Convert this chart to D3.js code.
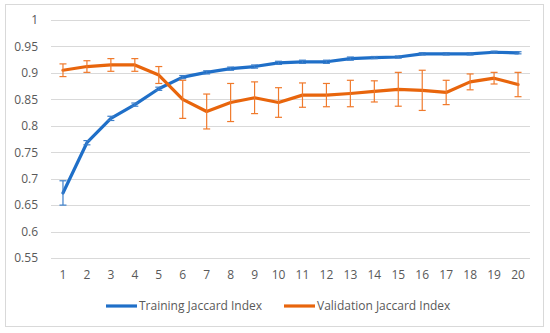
<!DOCTYPE html>
<html lang="en">
<head>
<meta charset="utf-8">
<title>Jaccard Index</title>
<script src="https://cdn.jsdelivr.net/npm/d3@7"></script>
<style>
  html, body { margin: 0; padding: 0; background: #fff; }
  svg { font-family: "Open Sans", sans-serif; display: block; }
</style>
</head>
<body>
<script>
// data
const epochs = d3.range(1, 21);
const trainMean = [0.673, 0.768, 0.814, 0.840, 0.870, 0.892, 0.901, 0.908, 0.912, 0.919,
                   0.921, 0.921, 0.927, 0.929, 0.930, 0.936, 0.936, 0.936, 0.939, 0.938];
const trainErr  = [0.023, 0.004, 0.004, 0.003, 0.003, 0.003, 0.003, 0.003, 0.003, 0.003,
                   0.003, 0.003, 0.003, 0.002, 0.002, 0.002, 0.002, 0.002, 0.002, 0.002];
const valMean   = [0.905, 0.912, 0.915, 0.915, 0.896, 0.850, 0.827, 0.844, 0.853, 0.844,
                   0.858, 0.858, 0.861, 0.865, 0.869, 0.867, 0.863, 0.883, 0.890, 0.878];
const valErr    = [0.012, 0.011, 0.012, 0.012, 0.016, 0.036, 0.033, 0.036, 0.030, 0.028,
                   0.023, 0.022, 0.025, 0.020, 0.032, 0.038, 0.023, 0.015, 0.011, 0.023];
const yTicks = [0.55, 0.6, 0.65, 0.7, 0.75, 0.8, 0.85, 0.9, 0.95, 1];

const series = [
  { name: "Training Jaccard Index", mean: trainMean, err: trainErr, color: "#1f6fc8", errColor: "#3d7fca" },
  { name: "Validation Jaccard Index", mean: valMean, err: valErr, color: "#e8650c", errColor: "#f07a2c" }
];

const w = 550, h = 333;
const svg = d3.select("body").append("svg").attr("width", w).attr("height", h);

// chart border
svg.append("rect").attr("x", 5.5).attr("y", 4.5).attr("width", 538).attr("height", 322)
  .attr("fill", "#fff").attr("stroke", "#d9d9d9");

const x = d3.scaleBand().domain(epochs).range([51, 530]);
const y = d3.scaleLinear().domain([0.55, 1]).range([258, 20]);

// gridlines
svg.append("g").selectAll("line").data(yTicks).join("line")
  .attr("x1", 51).attr("x2", 530)
  .attr("y1", d => Math.round(y(d)) + 0.5).attr("y2", d => Math.round(y(d)) + 0.5)
  .attr("stroke", "#d9d9d9");

// y axis labels
const yAxis = d3.axisLeft(y).tickValues(yTicks).tickSize(0).tickPadding(0)
  .tickFormat(d => String(+d.toFixed(2)));
const gy = svg.append("g").attr("transform", "translate(38,0)").call(yAxis);
gy.select(".domain").remove();
gy.selectAll("text").attr("font-size", "12px").attr("fill", "#595959").attr("font-family", "Open Sans");

// x axis labels
const xAxis = d3.axisBottom(x).tickSize(0).tickPadding(0);
const gx = svg.append("g").attr("transform", "translate(0,270)").call(xAxis);
gx.select(".domain").remove();
gx.selectAll("text").attr("font-size", "12px").attr("fill", "#595959").attr("font-family", "Open Sans");

const cx = d => x(d) + x.bandwidth() / 2;

series.forEach(s => {
  const pts = epochs.map((e, i) => ({ e, m: s.mean[i], r: s.err[i] }));
  const g = svg.append("g");

  g.append("path").datum(pts)
    .attr("fill", "none").attr("stroke", s.color).attr("stroke-width", 3.2)
    .attr("stroke-linejoin", "round").attr("stroke-linecap", "round")
    .attr("d", d3.line().x(d => cx(d.e)).y(d => y(d.m)));

  const eb = g.selectAll(".err").data(pts).join("g").attr("stroke", s.errColor).attr("stroke-width", 1.2);
  eb.append("line").attr("x1", d => cx(d.e)).attr("x2", d => cx(d.e))
    .attr("y1", d => y(d.m - d.r)).attr("y2", d => y(d.m + d.r));
  eb.append("line").attr("x1", d => cx(d.e) - 3.5).attr("x2", d => cx(d.e) + 3.5)
    .attr("y1", d => y(d.m - d.r)).attr("y2", d => y(d.m - d.r));
  eb.append("line").attr("x1", d => cx(d.e) - 3.5).attr("x2", d => cx(d.e) + 3.5)
    .attr("y1", d => y(d.m + d.r)).attr("y2", d => y(d.m + d.r));
});

// legend
const legX = [106, 284];
const leg = svg.append("g").selectAll("g").data(series).join("g")
  .attr("transform", (d, i) => "translate(" + legX[i] + ",306)");
leg.append("line").attr("x1", 0).attr("x2", 31).attr("y1", 0).attr("y2", 0)
  .attr("stroke", d => d.color).attr("stroke-width", 3.2);
leg.append("text").attr("x", 33).attr("y", 4)
  .attr("font-size", "12px").attr("fill", "#595959")
  .text(d => d.name);
</script>
</body>
</html>
